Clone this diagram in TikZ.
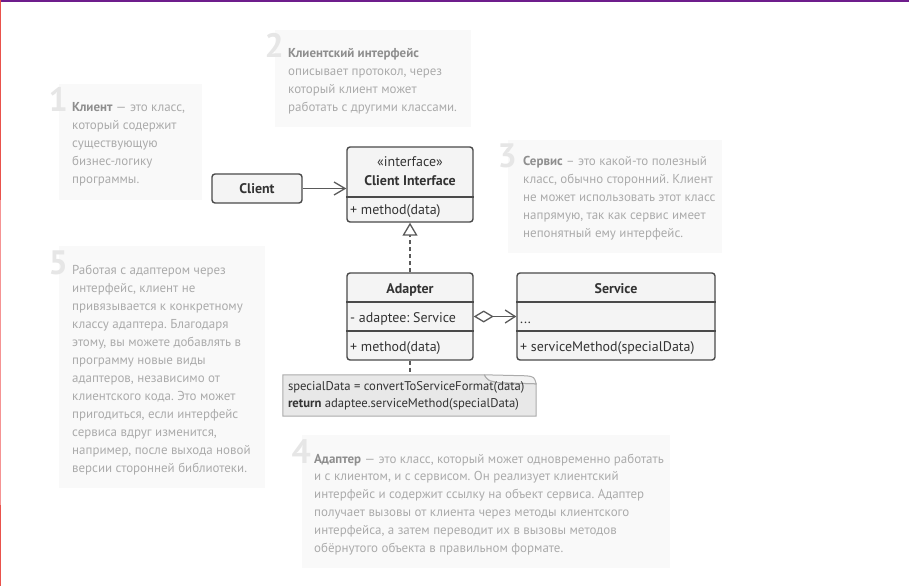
\documentclass[tikz,border=0pt]{standalone}
\usepackage{fontspec}
\setmainfont{PT Sans}
\usetikzlibrary{arrows.meta,calc}
\definecolor{ink}{HTML}{333333}
\definecolor{frame}{HTML}{4A4A4A}
\definecolor{wire}{HTML}{5A5A5A}
\definecolor{boxfill}{HTML}{F4F4F4}
\definecolor{notebg}{HTML}{F9F9F9}
\definecolor{numgray}{HTML}{E6E6E6}
\definecolor{notetext}{HTML}{ABABAB}
\definecolor{notebold}{HTML}{8E8E8E}
\definecolor{codefill}{HTML}{E8E8E8}
\definecolor{codefold}{HTML}{F2F2F2}
\definecolor{codeline}{HTML}{ABABAB}
\definecolor{edgered}{HTML}{E9524C}
\definecolor{edgepink}{HTML}{F59393}
\definecolor{edgeviolet}{HTML}{6E1D8C}
\newcommand{\term}[1]{\textbf{\color{notebold}#1}}
\frenchspacing

\begin{document}
\begin{tikzpicture}[x=1bp,y=-1bp,text=ink,
  classbox/.style={draw=frame,fill=boxfill,line width=1.4bp,rounded corners=3bp,inner sep=0pt},
  member/.style={anchor=mid west,inner sep=0pt,font=\fontsize{14}{16}\selectfont},
  title/.style={anchor=mid,inner sep=0pt,font=\fontsize{14}{16}\selectfont\bfseries},
  bignum/.style={anchor=base east,inner sep=0pt,text=numgray,font=\fontsize{34}{34}\selectfont\bfseries},
  notetxt/.style={anchor=west,align=left,inner sep=0pt,text=notetext,font=\fontsize{13}{18}\selectfont},
  wirestyle/.style={draw=wire,line width=1.3bp},
  dashline/.style={wirestyle,dash pattern=on 4bp off 3bp}]
  \useasboundingbox (0,0) rectangle (909,586);
  \draw[edgeviolet,line width=2bp] (0,1) -- (909,1);
  \draw[edgered,line width=1.5bp] (0.75,0) -- (0.75,200);
  \draw[edgepink,line width=1.5bp] (0.75,200) -- (0.75,505);
  \draw[edgered,line width=1.5bp] (0.75,505) -- (0.75,586);

  \foreach \n/\x/\y/\w/\h in {
    1/59/84/143/116,
    2/275/30/196/97,
    3/508/140/214/113,
    5/59/246/206/242,
    4/302/435/368/133}
    {\node[fill=notebg,anchor=north west,inner sep=0pt,
           minimum width=\w bp,minimum height=\h bp] (note\n) at (\x,\y) {};
     \node[bignum] (num\n) at ($(note\n.north west)+(9,28)$) {\n};}

  \node[notetxt] (text1) at ($(note1.north west)+(13,60.5)$)
    {\term{Клиент} — это класс,\\который содержит\\существующую\\бизнес-логику\\программы.};
  \node[notetxt] (text2) at ($(note2.north west)+(13,51.5)$)
    {\term{Клиентский интерфейс}\\описывает протокол, через\\который клиент может\\работать с другими классами.};
  \node[notetxt] (text3) at ($(note3.north west)+(15,58.5)$)
    {\term{Сервис} – это какой-то полезный\\класс, обычно сторонний. Клиент\\не может использовать этот класс\\напрямую, так как сервис имеет\\непонятный ему интерфейс.};
  \node[notetxt] (text5) at ($(note5.north west)+(13,124)$)
    {Работая с адаптером через\\интерфейс, клиент не\\привязывается к конкретному\\классу адаптера. Благодаря\\этому, вы можете добавлять в\\программу новые виды\\адаптеров, независимо от\\клиентского кода. Это может\\пригодиться, если интерфейс\\сервиса вдруг изменится,\\например, после выхода новой\\версии сторонней библиотеки.};
  \node[notetxt] (text4) at ($(note4.north west)+(12,69.5)$)
    {\term{Адаптер} — это класс, который может одновременно работать\\и с клиентом, и с сервисом. Он реализует клиентский\\интерфейс и содержит ссылку на объект сервиса. Адаптер\\получает вызовы от клиента через методы клиентского\\интерфейса, а затем переводит их в вызовы методов\\обёрнутого объекта в правильном формате.};

  \node[classbox,minimum width=90bp,minimum height=29bp] (client) at (257,188.5) {};
  \node[title] (clientname) at (257,191.5) {Client};

  \node[classbox,minimum width=126bp,minimum height=75bp] (iface) at (410,184.5) {};
  \draw[frame,line width=1.4bp] (iface.west |- 0,197) -- (iface.east |- 0,197);
  \node[anchor=mid,inner sep=0pt,font=\fontsize{14}{16}\selectfont] (ifacetag) at (410,164.5) {«interface»};
  \node[title] (ifacename) at (410,183.5) {Client Interface};
  \node[member] (ifacemethod) at (350,212) {+ method(data)};

  \node[classbox,minimum width=126bp,minimum height=87bp] (adapter) at (410,316.5) {};
  \draw[frame,line width=1.4bp] (adapter.west |- 0,302) -- (adapter.east |- 0,302);
  \draw[frame,line width=1.4bp] (adapter.west |- 0,331) -- (adapter.east |- 0,331);
  \node[title] (adaptername) at (410,291.5) {Adapter};
  \node[member] (adapterfield) at (350,320.5) {- adaptee: Service};
  \node[member] (adaptermethod) at (350,349) {+ method(data)};

  \node[classbox,minimum width=198bp,minimum height=87bp] (service) at (616,316.5) {};
  \draw[frame,line width=1.4bp] (service.west |- 0,302) -- (service.east |- 0,302);
  \draw[frame,line width=1.4bp] (service.west |- 0,331) -- (service.east |- 0,331);
  \node[title] (servicename) at (616,291.5) {Service};
  \node[member] (servicefield) at (520,321) {...};
  \node[member] (servicemethod) at (520,349) {+ serviceMethod(specialData)};

  \draw[wirestyle,-{Straight Barb[length=11bp,width=13bp]}]
    (client.east) -- (client.east -| iface.west);
  \draw[dashline,-{Triangle[open,length=13bp,width=15bp,line width=1.3bp,fill=white]}]
    (adapter.north) -- (iface.south);
  \draw[wirestyle,{Diamond[open,length=20bp,width=12bp,fill=white]}-{Straight Barb[length=10bp,width=13bp]}]
    (adapter.east) -- (service.west);

  \node[inner sep=0pt,minimum width=253bp,minimum height=41bp] (code) at (409.5,395.5) {};
  \draw[dashline] (adapter.south) -- (code.north -| adapter.south);
  \filldraw[fill=codefill,draw=codeline,line width=1bp]
    (code.north west) -- ($(code.north east)+(-52,0)$)
    .. controls ($(code.north east)+(-48,6)$) .. ($(code.north east)+(-36,8)$)
    -- ($(code.north east)+(0,9)$) -- (code.south east) -- (code.south west) -- cycle;
  \filldraw[fill=codefold,draw=codeline,line width=1bp]
    ($(code.north east)+(-52,0)$) -- ($(code.north east)+(-10,1)$)
    .. controls ($(code.north east)+(-2,2)$) .. ($(code.north east)+(0,9)$)
    -- ($(code.north east)+(-36,8)$)
    .. controls ($(code.north east)+(-48,6)$) .. ($(code.north east)+(-52,0)$);
  \node[anchor=west,align=left,inner sep=0pt,font=\fontsize{12.7}{17}\selectfont] (codetext)
    at ($(code.west)+(5,0.5)$)
    {specialData = convertToServiceFormat(data)\\\textbf{return} adaptee.serviceMethod(specialData)};
\end{tikzpicture}
\end{document}
